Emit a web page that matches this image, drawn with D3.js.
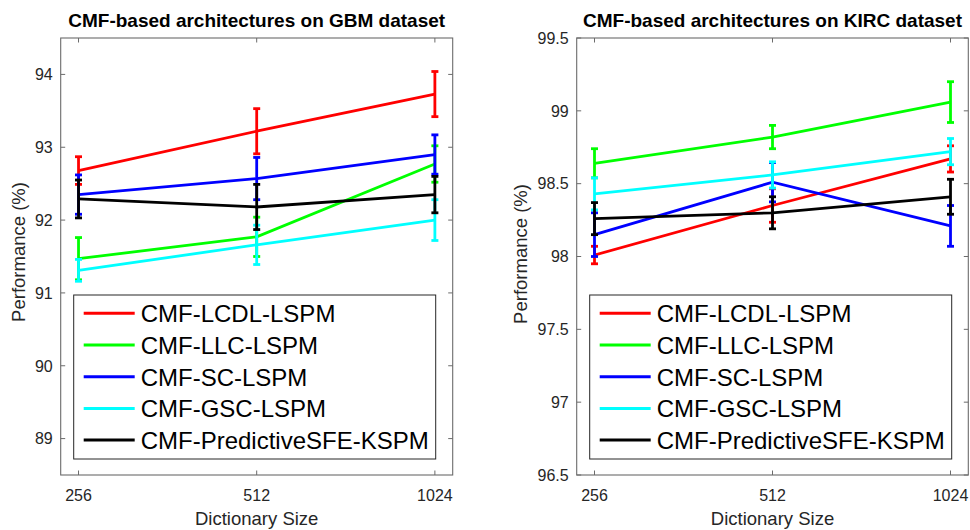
<!DOCTYPE html>
<html>
<head>
<meta charset="utf-8">
<script src="https://cdn.jsdelivr.net/npm/d3@7"></script>
<style>
  html, body { margin: 0; padding: 0; background: #fff; }
  svg { display: block; font-family: "Liberation Sans", Arial, Helvetica, sans-serif; }
</style>
</head>
<body>
<div id="draw_svg"></div>
<script>
// 数据：字典大小与各方法的均值/误差
const dictSizes = ["256", "512", "1024"];
const seriesNames = ["CMF-LCDL-LSPM", "CMF-LLC-LSPM", "CMF-SC-LSPM", "CMF-GSC-LSPM", "CMF-PredictiveSFE-KSPM"];
const seriesColors = ["#ff0000", "#00ff00", "#0000ff", "#00ffff", "#000000"];

const gbmMean = [
  [92.68, 93.22, 93.73],
  [91.47, 91.77, 92.77],
  [92.35, 92.57, 92.90],
  [91.31, 91.66, 92.00],
  [92.29, 92.18, 92.35]
];
const gbmErr = [
  [0.19, 0.31, 0.31],
  [0.29, 0.27, 0.25],
  [0.27, 0.29, 0.27],
  [0.15, 0.27, 0.28],
  [0.26, 0.31, 0.25]
];
const gbmYTicks = [89, 90, 91, 92, 93, 94];

const kircMean = [
  [98.01, 98.35, 98.67],
  [98.64, 98.82, 99.06],
  [98.15, 98.51, 98.21],
  [98.43, 98.56, 98.72],
  [98.26, 98.30, 98.41]
];
const kircErr = [
  [0.06, 0.115, 0.09],
  [0.10, 0.08, 0.14],
  [0.15, 0.135, 0.14],
  [0.11, 0.09, 0.09],
  [0.11, 0.11, 0.12]
];
const kircYTicks = [96.5, 97, 97.5, 98, 98.5, 99, 99.5];

const W = 970, H = 530;
const axisColor = "#262626";

/**
 * 绘制单个子图
 */
drawPanel = (svg, p) => {
  const g = svg.append("g");
  const x = d3.scaleLinear().domain([-0.1, 2.1]).range([p.left, p.right]);
  const y = d3.scaleLinear().domain(p.yDomain).range([p.bottom, p.top]);
  const tk = 4.5;

  // 坐标框
  g.append("rect")
    .attr("x", p.left).attr("y", p.top)
    .attr("width", p.right - p.left).attr("height", p.bottom - p.top)
    .attr("fill", "none").attr("stroke", "#6b6b6b").attr("stroke-width", 1.1);

  // 刻度（四边向内）
  dictSizes.forEach((d, i) => {
    g.append("line").attr("x1", x(i)).attr("x2", x(i)).attr("y1", p.bottom).attr("y2", p.bottom - tk)
      .attr("stroke", "#6b6b6b");
    g.append("line").attr("x1", x(i)).attr("x2", x(i)).attr("y1", p.top).attr("y2", p.top + tk)
      .attr("stroke", "#6b6b6b");
    g.append("text").attr("x", x(i)).attr("y", 500.5)
      .attr("text-anchor", "middle").attr("font-size", 16).attr("fill", axisColor).text(d);
  });
  p.yTicks.forEach((v) => {
    g.append("line").attr("x1", p.left).attr("x2", p.left + tk).attr("y1", y(v)).attr("y2", y(v))
      .attr("stroke", "#6b6b6b");
    g.append("line").attr("x1", p.right).attr("x2", p.right - tk).attr("y1", y(v)).attr("y2", y(v))
      .attr("stroke", "#6b6b6b");
    g.append("text").attr("x", p.left - 8).attr("y", y(v)).attr("dy", "0.36em")
      .attr("text-anchor", "end").attr("font-size", 16).attr("fill", axisColor).text(v);
  });

  // 标题与轴标签
  g.append("text").attr("x", (p.left + p.right) / 2).attr("y", 26.5)
    .attr("text-anchor", "middle").attr("font-size", 19).attr("font-weight", "bold")
    .attr("fill", "#000").text(p.title);
  g.append("text").attr("x", (p.left + p.right) / 2).attr("y", 525)
    .attr("text-anchor", "middle").attr("font-size", 18.5).attr("fill", axisColor).text("Dictionary Size");
  g.append("text").attr("transform", `translate(${p.yLabelX},${p.yLabelY}) rotate(-90)`)
    .attr("text-anchor", "middle").attr("font-size", 18.5).attr("fill", axisColor).text("Performance (%)");

  // 折线 + 误差棒
  const line = d3.line().x((d, i) => x(i)).y((d) => y(d));
  p.mean.forEach((s, k) => {
    const col = seriesColors[k];
    g.append("path").datum(s).attr("d", line)
      .attr("fill", "none").attr("stroke", col).attr("stroke-width", 2.8);
    s.forEach((v, i) => {
      const e = p.err[k][i];
      const cx = x(i);
      g.append("line").attr("x1", cx).attr("x2", cx).attr("y1", y(v - e)).attr("y2", y(v + e))
        .attr("stroke", col).attr("stroke-width", 2.8);
      [v - e, v + e].forEach((c) => {
        g.append("line").attr("x1", cx - 3.5).attr("x2", cx + 3.5).attr("y1", y(c)).attr("y2", y(c))
          .attr("stroke", col).attr("stroke-width", 2.8);
      });
    });
  });

  // 图例
  const lx = p.left + 13, ly = 295, lw = 362, lh = 164;
  g.append("rect").attr("x", lx).attr("y", ly).attr("width", lw).attr("height", lh)
    .attr("fill", "#fff").attr("stroke", axisColor).attr("stroke-width", 1);
  seriesNames.forEach((n, k) => {
    const cy = 313.3 + k * 31.7;
    g.append("line").attr("x1", lx + 10).attr("x2", lx + 61).attr("y1", cy).attr("y2", cy)
      .attr("stroke", seriesColors[k]).attr("stroke-width", 3);
    g.append("text").attr("x", lx + 67).attr("y", cy + 8.8)
      .attr("font-size", 24).attr("fill", "#000").text(n);
  });
}

pageInit = () => {
  const svg = d3.select("#draw_svg").append("svg")
    .attr("width", W).attr("height", H);

  drawPanel(svg, {
    left: 60.7, right: 452.7, top: 38, bottom: 475,
    yDomain: [88.5, 94.5], yTicks: gbmYTicks,
    mean: gbmMean, err: gbmErr,
    title: "CMF-based architectures on GBM dataset",
    yLabelX: 24.5, yLabelY: 252
  });
  drawPanel(svg, {
    left: 576.7, right: 968.3, top: 38, bottom: 475,
    yDomain: [96.5, 99.5], yTicks: kircYTicks,
    mean: kircMean, err: kircErr,
    title: "CMF-based architectures on KIRC dataset",
    yLabelX: 526.5, yLabelY: 254
  });
}

window.onload = () => {
  pageInit();
}
</script>
</body>
</html>
